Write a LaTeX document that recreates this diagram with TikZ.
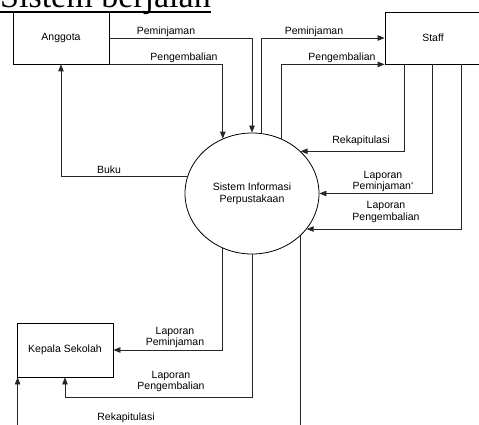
\documentclass[tikz,border=0pt]{standalone}
\usepackage{fontspec}
\setmainfont{Liberation Sans}
\newfontfamily\titlefont{Liberation Serif}
\usetikzlibrary{arrows.meta,shapes.geometric}

\tikzset{
  entity/.style={draw=black, line width=0.8pt, rectangle, minimum width=96pt,
    minimum height=52pt, inner sep=0pt, font=\fontsize{10.5}{12}\selectfont},
  process/.style={draw=black, line width=0.8pt, ellipse, minimum width=134pt,
    minimum height=121pt, inner sep=0pt, align=center,
    font=\fontsize{10.5}{12}\selectfont},
  flow/.style={line width=0.8pt, draw=black!85,
    -{Triangle[length=7pt,width=5.5pt]}},
  flowtext/.style={inner sep=0pt, align=center,
    font=\fontsize{10.5}{11.5}\selectfont}
}

\begin{document}
\begin{tikzpicture}[x=1pt,y=-1pt]
  \useasboundingbox (0,0) rectangle (479,425);
  \clip (0,0) rectangle (479,425);

  % title
  \node[anchor=base west, inner sep=0pt, font=\titlefont\fontsize{34}{36}\selectfont]
    (title) at (0,8) {Sistem berjalan};
  \draw[line width=1.4pt] ([yshift=-4pt]title.base west) -- ([yshift=-4pt]title.base east);

  % external entities and the process
  \node[entity] (anggota) at (61,38) {Anggota};
  \node[entity] (staff) at (433,38) {Staff};
  \node[entity, minimum height=54pt] (kepala) at (65,350) {Kepala Sekolah};
  \node[process] (sys) at (252,193.5) {Sistem Informasi\\Perpustakaan};

  % Anggota <-> system
  \draw[flow] (anggota.east) -| (sys.north);
  \draw[flow] (anggota.south east) -| (sys.118);
  \draw[flow] (sys.165.7) -| (anggota.south);

  % system -> Staff
  \draw[flow] (sys.81.5) |- (staff.west);
  \draw[flow] (sys.62) |- (staff.south west);

  % Staff -> system
  \draw[flow] ([xshift=20pt]staff.south west) |- (sys.41.7);
  \draw[flow] ([xshift=48pt]staff.south west) |- (sys.east);
  \draw[flow] ([xshift=77pt]staff.south west) |- (sys.-33.2);

  % system -> Kepala Sekolah
  \draw[flow] (sys.-118) |- (kepala.east);
  \draw[flow] (sys.south) |- (kepala.south |- 0,397) -- (kepala.south);
  \draw[flow] (sys.-41.3) |- ([xshift=1pt]kepala.south west |- 0,434)
    -- ([xshift=1pt]kepala.south west);

  % flow labels
  \node[flowtext] (l1) at (166,32) {Peminjaman};
  \node[flowtext] (l2) at (184,58) {Pengembalian};
  \node[flowtext] (l3) at (109,170) {Buku};
  \node[flowtext] (l4) at (314,32) {Peminjaman};
  \node[flowtext] (l5) at (342,58) {Pengembalian};
  \node[flowtext] (l6) at (361,141) {Rekapitulasi};
  \node[flowtext] (l7) at (383,181.5) {Laporan\\Peminjaman\symbol{96}};
  \node[flowtext] (l8) at (386,212) {Laporan\\Pengembalian};
  \node[flowtext] (l9) at (175,337.5) {Laporan\\Peminjaman};
  \node[flowtext] (l10) at (171,381.5) {Laporan\\Pengembalian};
  \node[flowtext] (l11) at (126,418) {Rekapitulasi};
\end{tikzpicture}
\end{document}
